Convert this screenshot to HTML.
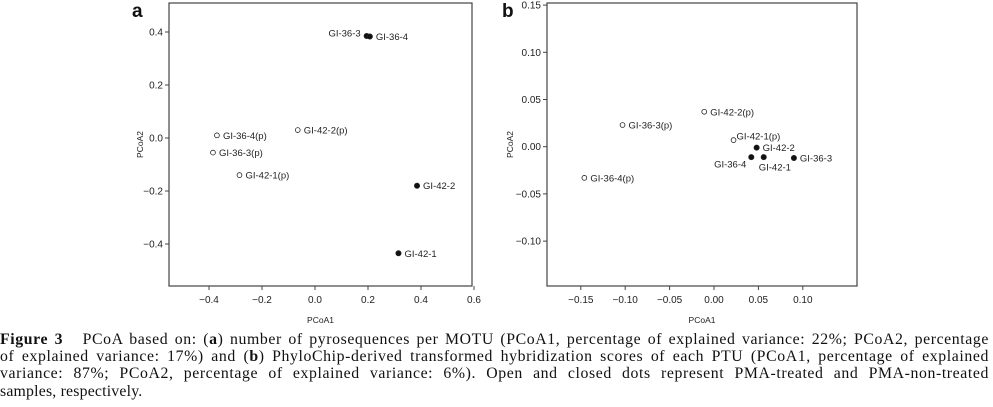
<!DOCTYPE html>
<html><head><meta charset="utf-8"><style>
body{margin:0;background:#fff;width:993px;height:407px;overflow:hidden;position:relative}
svg{position:absolute;left:0;top:0}
#cap{position:absolute;left:0;top:331px;width:989px;font-family:"Liberation Serif",serif;font-size:15.8px;line-height:17.2px;color:#111;letter-spacing:0.6px}
#cap div{text-align:justify;text-align-last:justify;white-space:nowrap}
#cap div.last{text-align-last:left;letter-spacing:0.2px}
</style></head><body>
<svg id="chart" width="993" height="330" font-family="Liberation Sans, sans-serif"></svg>
<div id="cap">
<div><b>Figure 3</b>&nbsp;&nbsp; PCoA based on: (<b>a</b>) number of pyrosequences per MOTU (PCoA1, percentage of explained variance: 22%; PCoA2, percentage</div>
<div>of explained variance: 17%) and (<b>b</b>) PhyloChip-derived transformed hybridization scores of each PTU (PCoA1, percentage of explained</div>
<div>variance: 87%; PCoA2, percentage of explained variance: 6%). Open and closed dots represent PMA-treated and PMA-non-treated</div>
<div class="last">samples, respectively.</div>
</div>
<script>
const aLabels=["GI-36-3","GI-36-4","GI-36-4(p)","GI-42-2(p)","GI-36-3(p)","GI-42-1(p)","GI-42-2","GI-42-1"];
const aX=[0.195,0.207,-0.37,-0.065,-0.385,-0.285,0.385,0.315];
const aY=[0.385,0.383,0.01,0.03,-0.055,-0.14,-0.18,-0.435];
const aOpen=[0,0,1,1,1,1,0,0];
const aXTicks=[-0.4,-0.2,0.0,0.2,0.4,0.6];
const aYTicks=[0.4,0.2,0.0,-0.2,-0.4];
const bLabels=["GI-42-2(p)","GI-36-3(p)","GI-42-1(p)","GI-42-2","GI-36-4","GI-42-1","GI-36-3","GI-36-4(p)"];
const bX=[-0.011,-0.103,0.022,0.048,0.042,0.056,0.09,-0.146];
const bY=[0.037,0.023,0.007,-0.001,-0.011,-0.011,-0.012,-0.033];
const bOpen=[1,1,1,0,0,0,0,1];
const bXTicks=[-0.15,-0.10,-0.05,0.00,0.05,0.10];
const bYTicks=[0.15,0.10,0.05,0.00,-0.05,-0.10];
const svg=document.getElementById('chart');const NS='http://www.w3.org/2000/svg';
function mk(t,at,txt){const e=document.createElementNS(NS,t);for(const k in at)e.setAttribute(k,at[k]);if(txt!==undefined)e.textContent=txt;svg.appendChild(e);return e;}
function fmt(v,d){return v.toFixed(d).replace('-','\u2212');}
const aOff={"GI-36-3":[-6,'end',-3]};
const bOff={"GI-42-1(p)":[3,'start',-4],"GI-36-4":[-5,'end',7],"GI-42-1":[-5,'start',10]};
function panel(p){
  const sx=v=>p.x0+(v-p.xa)*p.kx, sy=v=>p.y0-(v-p.ya)*p.ky;
  let e=mk('rect',{x:p.L,y:p.T,width:p.R-p.L,height:p.B-p.T,fill:'none',stroke:'#444','stroke-width':1.2});
  
  p.xt.forEach(v=>{const x=sx(v);
    e=mk('line',{x1:x,x2:x,y1:p.B,y2:p.B+4,stroke:'#444'});
    e=mk('text',{x:x,y:p.B+17,'font-size':10,'text-anchor':'middle',fill:'#222'},fmt(v,p.dx));});
  p.yt.forEach(v=>{const y=sy(v);
    e=mk('line',{x1:p.L-4,x2:p.L,y1:y,y2:y,stroke:'#444'});
    e=mk('text',{x:p.L-6,y:y+3.5,'font-size':10,'text-anchor':'end',fill:'#222'},fmt(v,p.dy));});
  e=mk('text',{x:(p.L+p.R)/2,y:323,'font-size':8.5,'text-anchor':'middle',fill:'#222'},'PCoA1');
  const ty=(p.T+p.B)/2;
  e=mk('text',{x:p.yx,y:ty,'font-size':8.5,'text-anchor':'middle',fill:'#222',transform:`rotate(-90 ${p.yx} ${ty})`},'PCoA2');
  e=mk('text',{x:p.lx,y:17,'font-size':19,'font-weight':'bold',fill:'#111'},p.id);
  p.lab.forEach((l,i)=>{const x=sx(p.X[i]),y=sy(p.Y[i]);
    e=mk('circle',{cx:x,cy:y,r:p.op[i]?2.4:2.6,fill:p.op[i]?'#fff':'#111',stroke:'#222','stroke-width':0.8});
    const o=p.off[l]||[6,'start',0];
    e=mk('text',{x:x+o[0],y:y+3.5+o[2],'font-size':9.5,'text-anchor':o[1],fill:'#222'},l);});
}
panel({id:'a',L:169,R:472,T:3,B:286,x0:315,xa:0,kx:265,y0:138,ya:0,ky:265,xt:aXTicks,yt:aYTicks,dx:1,dy:1,yx:143,lx:132,lab:aLabels,X:aX,Y:aY,op:aOpen,off:aOff});
panel({id:'b',L:547,R:857,T:3,B:286,x0:714,xa:0,kx:888,y0:146.7,ya:0,ky:944,xt:bXTicks,yt:bYTicks,dx:2,dy:2,yx:513,lx:502,lab:bLabels,X:bX,Y:bY,op:bOpen,off:bOff});
</script>
</body></html>
